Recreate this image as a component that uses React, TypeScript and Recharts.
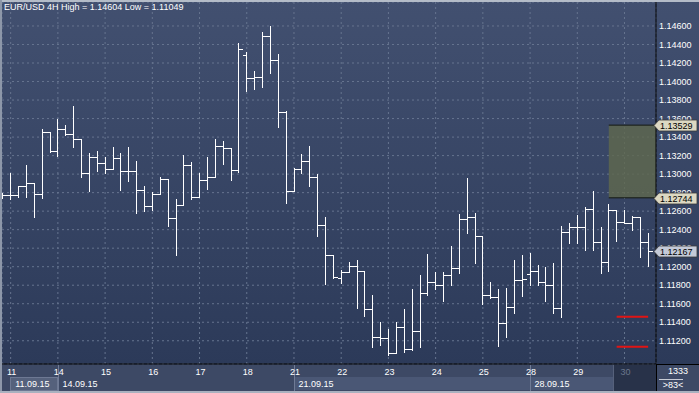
import React from 'react';
import { ComposedChart, Bar, XAxis, YAxis, CartesianGrid, ReferenceLine, ReferenceArea } from 'recharts';

// EUR/USD 4H bars, 10.09.15 20:00 .. 30.09.15 12:00
const opens = [
  1.1276, 1.12769, 1.12769, 1.12869, 1.12901, 1.12786, 1.13452, 1.13247, 1.13488, 1.1343,
  1.13376, 1.13009, 1.13182, 1.13117, 1.13052, 1.13171, 1.13031, 1.13031, 1.12826, 1.12659,
  1.12782, 1.12944, 1.12523, 1.1267, 1.13096, 1.1275, 1.12934, 1.12966, 1.13304, 1.13279,
  1.13042, 1.14284, 1.14035, 1.14046, 1.14492, 1.1423, 1.13668, 1.12818, 1.13056, 1.13139,
  1.12966, 1.12448, 1.12124, 1.11875, 1.1194, 1.12011, 1.11957, 1.1154, 1.11238, 1.11227,
  1.11065, 1.11346, 1.11115, 1.11306, 1.1172, 1.11832, 1.11803, 1.11911, 1.11983, 1.12516,
  1.1254, 1.12329, 1.11695, 1.11676, 1.11389, 1.11562, 1.11857, 1.11918, 1.11954, 1.11832,
  1.11803, 1.11558, 1.12378, 1.12426, 1.12426, 1.12624, 1.12264, 1.12048, 1.12613, 1.1248,
  1.12469, 1.1254, 1.1227,
];
const highs = [
  1.12796, 1.13009, 1.12872, 1.13099, 1.12901, 1.13484, 1.13452, 1.13596, 1.13531, 1.13736,
  1.13376, 1.13225, 1.1325, 1.13188, 1.1329, 1.13232, 1.1329, 1.13142, 1.12872, 1.1281,
  1.12972, 1.12944, 1.12728, 1.13207, 1.13134, 1.13016, 1.13182, 1.13376, 1.13358, 1.13279,
  1.14413, 1.14316, 1.14114, 1.14535, 1.14604, 1.14298, 1.13682, 1.13063, 1.13218, 1.13304,
  1.13002, 1.12534, 1.1213, 1.11965, 1.12054, 1.12073, 1.11957, 1.11695, 1.11406, 1.11324,
  1.11406, 1.1154, 1.11756, 1.11911, 1.12138, 1.11946, 1.11943, 1.12224, 1.1257, 1.12955,
  1.12577, 1.12329, 1.11838, 1.11756, 1.11767, 1.12073, 1.12127, 1.12152, 1.12019, 1.11994,
  1.12037, 1.1244, 1.12469, 1.12559, 1.12642, 1.12818, 1.12432, 1.12674, 1.12613, 1.12613,
  1.12551, 1.1254, 1.12361,
];
const lows = [
  1.12742, 1.12726, 1.1275, 1.1275, 1.12532, 1.12739, 1.13242, 1.13199, 1.13423, 1.1329,
  1.12972, 1.12818, 1.13034, 1.13009, 1.13052, 1.12829, 1.12926, 1.12577, 1.12605, 1.12613,
  1.12782, 1.1244, 1.12127, 1.12667, 1.12735, 1.1275, 1.12843, 1.12966, 1.13104, 1.12937,
  1.13026, 1.13901, 1.13916, 1.13944, 1.14096, 1.13506, 1.12685, 1.12818, 1.13016, 1.12875,
  1.12335, 1.1181, 1.11875, 1.11821, 1.1194, 1.11551, 1.11471, 1.1113, 1.11155, 1.11049,
  1.11065, 1.11082, 1.11101, 1.11136, 1.11695, 1.11756, 1.11633, 1.11803, 1.11929, 1.12361,
  1.12044, 1.11598, 1.11659, 1.11147, 1.11244, 1.11504, 1.11687, 1.11803, 1.11803, 1.11633,
  1.11497, 1.11454, 1.1226, 1.12253, 1.12181, 1.12181, 1.11929, 1.11954, 1.12278, 1.12469,
  1.12397, 1.12108, 1.12011,
];
const closes = [
  1.12769, 1.12769, 1.12869, 1.12901, 1.12786, 1.13452, 1.13247, 1.13488, 1.1343, 1.13376,
  1.13009, 1.13182, 1.13117, 1.13052, 1.13171, 1.13031, 1.13031, 1.12826, 1.12659, 1.12782,
  1.12944, 1.12523, 1.1267, 1.13096, 1.1275, 1.12934, 1.12966, 1.13304, 1.13279, 1.13042,
  1.14348, 1.14035, 1.14046, 1.14492, 1.1423, 1.13668, 1.12818, 1.13056, 1.13139, 1.12966,
  1.12448, 1.12124, 1.11892, 1.1194, 1.12011, 1.11957, 1.1154, 1.11238, 1.11227, 1.11065,
  1.11346, 1.11115, 1.11306, 1.1172, 1.11832, 1.11803, 1.11911, 1.11983, 1.12516, 1.1254,
  1.12329, 1.11695, 1.11676, 1.11389, 1.11562, 1.11857, 1.11864, 1.11954, 1.11832, 1.11803,
  1.11558, 1.12378, 1.12426, 1.12426, 1.12624, 1.12264, 1.12048, 1.12613, 1.1248, 1.12469,
  1.1254, 1.1227, 1.12167,
];

const dayStarts = [1, 7, 13, 19, 25, 31, 37, 43, 49, 55, 61, 67, 73, 79];
const dayLabels = ['11', '14', '15', '16', '17', '18', '21', '22', '23', '24', '25', '28', '29', '30'];
const weekStarts = [1, 7, 37, 67];
const weekLabels = ['11.09.15', '14.09.15', '21.09.15', '28.09.15'];
const priceTicks = [
  1.112, 1.114, 1.116, 1.118, 1.12, 1.122, 1.124, 1.126, 1.128,
  1.13, 1.132, 1.134, 1.136, 1.138, 1.14, 1.142, 1.144, 1.146,
];
const boxTop = 1.13529;
const boxBottom = 1.12744;
const lastPrice = 1.12167;
const redLevels = [1.1146, 1.11136];

const data = opens.map((o, i) => ({
  idx: i,
  open: o,
  high: highs[i],
  low: lows[i],
  close: closes[i],
  range: [lows[i], highs[i]],
}));

const FONT = '"Liberation Sans", Arial, sans-serif';
const X_DOMAIN: [number, number] = [-0.1, 83];
const Y_DOMAIN: [number, number] = [1.10949, 1.14859];

const OhlcBar = (props: any) => {
  const { x, y, width, height, payload } = props;
  if (!payload) return null;
  const cx = Math.round(x + width / 2) + 0.5;
  const top = Math.min(y, y + height);
  const h = Math.abs(height);
  const span = payload.high - payload.low || 1;
  const py = (v: number) => Math.round(top + ((payload.high - v) / span) * h) + 0.5;
  return (
    <g stroke="#ffffff" strokeWidth={1} shapeRendering="crispEdges">
      <line x1={cx} x2={cx} y1={Math.round(top)} y2={Math.round(top + h) + 1} />
      <line x1={cx - 4} x2={cx} y1={py(payload.open)} y2={py(payload.open)} />
      <line x1={cx} x2={cx + 4} y1={py(payload.close)} y2={py(payload.close)} />
    </g>
  );
};

const DayTick = (props: any) => {
  const { x, y, payload } = props;
  const d = dayStarts.indexOf(payload.value);
  const w = weekStarts.indexOf(payload.value);
  const isLast = d === dayLabels.length - 1;
  return (
    <g fontFamily={FONT} fontSize={9}>
      {w > 0 && <line x1={x + 0.5} x2={x + 0.5} y1={y + 1} y2={y + 27} stroke="#6f7b96" shapeRendering="crispEdges" />}
      <text x={x + 1} y={y + 11} textAnchor="middle" fill={isLast ? '#6b768c' : '#ffffff'}>{dayLabels[d]}</text>
      {w >= 0 && <text x={x + 4.5} y={y + 22.5} fill="#ffffff">{weekLabels[w]}</text>}
    </g>
  );
};

// price tag drawn at the right edge of the plot, over the axis labels
const tag = (value: number, fill: string) => (p: any) => {
  const vb = p.viewBox;
  const right = vb.x + vb.width;
  const yy = Math.round(vb.y) + 0.5;
  const pts = `${right - 2},${yy} ${right + 3},${yy - 5.5} ${right + 41},${yy - 5.5} ${right + 41},${yy + 5.5} ${right + 3},${yy + 5.5}`;
  return (
    <g>
      <polygon points={pts} fill={fill} stroke="#3a3a3a" strokeWidth={0.8} />
      <text x={right + 4} y={yy + 3.5} fontFamily={FONT} fontSize={9} fill="#000">{value.toFixed(5)}</text>
    </g>
  );
};

export default function App() {
  return (
    <div style={{ position: 'absolute', left: 0, top: 0, width: 699, height: 393, overflow: 'hidden', fontFamily: FONT }}>
      <div style={{ position: 'absolute', left: 0, top: 0, width: 699, height: 364, background: 'linear-gradient(#425070, #2c3a59)' }} />
      <div style={{ position: 'absolute', left: 0, top: 364, width: 699, height: 29, background: '#3d4965' }} />
      <div style={{ position: 'absolute', left: 294, top: 377, width: 319, height: 13, background: '#4a5775' }} />
      <div style={{ position: 'absolute', left: 10, top: 377, width: 46, height: 12, background: '#55617c', border: '1px solid #6d7893' }} />
      <div style={{ position: 'absolute', left: 613, top: 365, width: 43, height: 26, background: '#283249', borderLeft: '1px solid #56617b' }} />
      <div style={{ position: 'absolute', left: 656, top: 364, width: 1, height: 28, background: '#000000' }} />
      <div style={{ position: 'absolute', left: 656, top: 364, width: 43, height: 1, background: '#000000' }} />
      <div style={{ position: 'absolute', left: 0, top: 0 }}>
        <ComposedChart width={699} height={393} data={data} margin={{ top: 2, right: 0, bottom: 0, left: 2 }}>
          <CartesianGrid stroke="#66748f" strokeDasharray="2 3" />
          <XAxis
            type="number"
            dataKey="idx"
            domain={X_DOMAIN}
            allowDataOverflow
            ticks={dayStarts}
            interval={0}
            height={29}
            axisLine={{ stroke: '#000000' }}
            tickLine={false}
            tickSize={0}
            tickMargin={0}
            tick={<DayTick />}
          />
          <YAxis
            orientation="right"
            width={43}
            domain={Y_DOMAIN}
            allowDataOverflow
            ticks={priceTicks}
            interval={0}
            axisLine={{ stroke: '#000000' }}
            tickLine={false}
            tickSize={0}
            tickMargin={3}
            tick={{ fill: '#ffffff', fontSize: 9, fontFamily: FONT }}
            tickFormatter={(v: number) => v.toFixed(5)}
          />
          <ReferenceArea x1={77} x2={83} y1={boxBottom} y2={boxTop} fill="#60694e" fillOpacity={0.8} stroke="none" />
          <ReferenceLine segment={[{ x: 77, y: boxTop }, { x: 83, y: boxTop }]} stroke="#151a12" />
          <ReferenceLine segment={[{ x: 77, y: boxBottom }, { x: 83, y: boxBottom }]} stroke="#151a12" />
          {redLevels.map((v) => (
            <ReferenceLine key={v} segment={[{ x: 78, y: v }, { x: 82, y: v }]} stroke="#e01414" strokeWidth={2} />
          ))}
          <Bar dataKey="range" barSize={8} isAnimationActive={false} shape={(p: any) => <OhlcBar {...p} />} />
        </ComposedChart>
      </div>
      {/* overlay with the same scales so the price tags sit above the axis labels */}
      <div style={{ position: 'absolute', left: 0, top: 0 }}>
        <ComposedChart width={699} height={393} data={data} margin={{ top: 2, right: 43, bottom: 29, left: 2 }}>
          <XAxis type="number" dataKey="idx" domain={X_DOMAIN} allowDataOverflow hide />
          <YAxis domain={Y_DOMAIN} allowDataOverflow hide />
          <ReferenceLine y={boxTop} stroke="none" label={{ content: tag(boxTop, '#dcd8c2') }} />
          <ReferenceLine y={boxBottom} stroke="none" label={{ content: tag(boxBottom, '#dcd8c2') }} />
          <ReferenceLine y={lastPrice} stroke="none" label={{ content: tag(lastPrice, '#c4cad8') }} />
        </ComposedChart>
      </div>
      <div style={{ position: 'absolute', left: 4, top: 2, fontSize: 9, lineHeight: '11px', color: '#ffffff' }}>
        EUR/USD 4H High = 1.14604 Low = 1.11049
      </div>
      <div style={{ position: 'absolute', left: 657, top: 366, width: 42, textAlign: 'center', fontSize: 9, lineHeight: '11px', color: '#ffffff' }}>1333</div>
      <div style={{ position: 'absolute', left: 659, top: 379, width: 24, height: 1, background: '#c8ccd6' }} />
      <div style={{ position: 'absolute', left: 657, top: 380, width: 32, textAlign: 'center', fontSize: 9, lineHeight: '11px', color: '#ffffff' }}>&gt;83&lt;</div>
      <div style={{ position: 'absolute', left: 0, top: 0, width: 699, height: 2, background: '#b4bcc8' }} />
      <div style={{ position: 'absolute', left: 0, top: 0, width: 2, height: 393, background: '#8d97a9' }} />
      <div style={{ position: 'absolute', left: 0, top: 391, width: 699, height: 2, background: '#a9b1bf' }} />
    </div>
  );
}
